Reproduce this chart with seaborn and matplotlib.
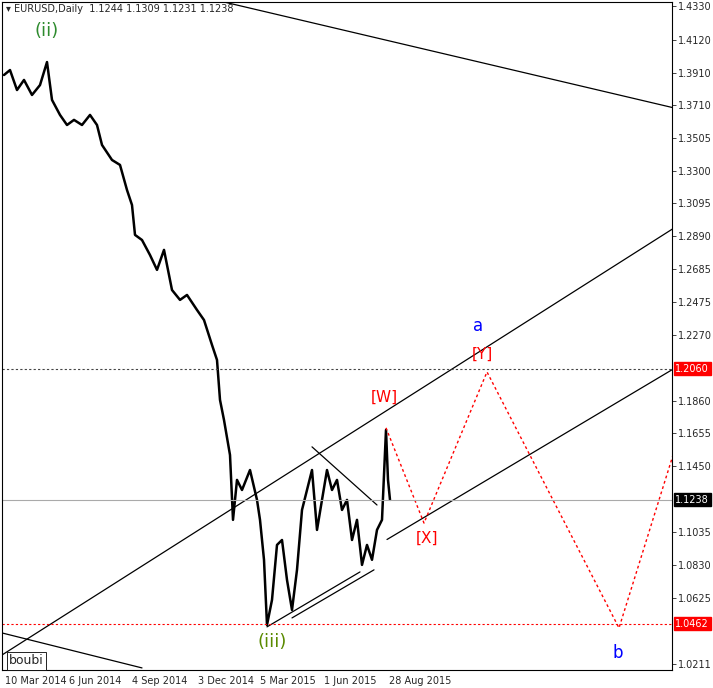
import matplotlib
matplotlib.use("Agg")
import matplotlib.pyplot as plt
import seaborn as sns
import pandas as pd

sns.set_style("white")
plt.rcParams['font.family'] = ['DejaVu Sans']

bar_idx = [2,8,15,22,30,38,45,50,58,65,72,80,88,95,100,110,118,125,130,133,140,148,155,162,170,178,185,195,202,210,215,218,222,228,231,235,240,248,255,258,262,265,270,275,280,285,290,295,300,305,310,315,320,325,330,335,340,345,350,355,360,365,370,375,380,384,386,388]
close = [1.3898,1.3929,1.3804,1.3867,1.3773,1.3835,1.3979,1.3742,1.3648,1.3585,1.3617,1.3585,1.3648,1.3585,1.3460,1.3366,1.3335,1.3178,1.3084,1.2897,1.2865,1.2771,1.2678,1.2803,1.2552,1.2490,1.2521,1.2427,1.2364,1.2208,1.2114,1.1864,1.1738,1.1519,1.1113,1.1363,1.1300,1.1425,1.1238,1.1113,1.0863,1.0455,1.0612,1.0956,1.0987,1.0737,1.0549,1.0800,1.1175,1.1300,1.1425,1.1050,1.1238,1.1425,1.1300,1.1363,1.1175,1.1238,1.0987,1.1113,1.0831,1.0956,1.0863,1.1050,1.1113,1.1676,1.1363,1.1238]

date_pos = [3,67,130,196,258,322,387]
date_labels = ["10 Mar 2014","6 Jun 2014","4 Sep 2014","3 Dec 2014","5 Mar 2015","1 Jun 2015","28 Aug 2015"]
price_ticks = [1.4330,1.4120,1.3910,1.3710,1.3505,1.3300,1.3095,1.2890,1.2685,1.2475,1.2270,1.1860,1.1655,1.1450,1.1035,1.0830,1.0625,1.0211]

# trend lines (bar index, price)
channel_up = ([0,672],[1.0267,1.2940])
channel_low = ([385,672],[1.0990,1.2060])
top_line = ([222,672],[1.4355,1.3692])
bottom_line = ([0,140],[1.0405,1.0186])
tri_line = ([310,375],[1.1570,1.1206])
inner1 = ([265,358],[1.0443,1.0787])
inner2 = ([290,372],[1.0499,1.0800])
wave_x = [384,422,485,617,672]
wave_y = [1.1689,1.1093,1.2039,1.0436,1.1538]
level_hi, level_lo, last_price = 1.2060, 1.0462, 1.1238

fig = plt.figure(figsize=(7.13,6.88), dpi=100)
ax = fig.add_axes([2/713, 18/688, 670/713, 668/688])
df = pd.DataFrame({"x": bar_idx, "p": close})
sns.lineplot(data=df, x="x", y="p", ax=ax, color="black", lw=1.8)
for lx, ly in [channel_up, channel_low, top_line, bottom_line, tri_line, inner1, inner2]:
    ax.plot(lx, ly, color="black", lw=0.9)
ax.plot(wave_x, wave_y, color="red", ls=(0,(2,2)), lw=1)
ax.axhline(level_hi, color="#444", ls=(0,(2,2)), lw=0.8)
ax.axhline(level_lo, color="red", ls=(0,(2,2)), lw=0.8)
ax.axhline(last_price, color="#aaaaaa", lw=0.8)

ax.set_xlim(0, 670)
ax.set_ylim(1.0173, 1.4355)
ax.yaxis.tick_right()
ax.set_yticks(price_ticks)
ax.set_yticklabels([f"{v:.4f}" for v in price_ticks], fontsize=7)
ax.set_xticks(date_pos)
ax.set_xticklabels(date_labels, fontsize=7, ha="left")
ax.tick_params(length=3, width=0.6, pad=1)
ax.set_xlabel(""); ax.set_ylabel("")
for s in ax.spines.values():
    s.set_color("black"); s.set_linewidth(0.8)

def box(v, fc):
    ax.text(1.005, (v-1.0173)/(1.4355-1.0173), f"{v:.4f}", transform=ax.transAxes, fontsize=7,
            color="white", va="center", ha="left",
            bbox=dict(boxstyle="square,pad=0.15", fc=fc, ec=fc))
box(level_hi, "red"); box(level_lo, "red"); box(last_price, "black")

ax.text(4, 1.4310, "▾ EURUSD,Daily  1.1244 1.1309 1.1231 1.1238", fontsize=7, va="center")
ax.text(45, 1.4175, "(ii)", color="#2e8b2e", fontsize=13, ha="center", va="center")
ax.text(270, 1.0348, "(iii)", color="#5a8a00", fontsize=13, ha="center", va="center")
ax.text(382, 1.1880, "[W]", color="red", fontsize=11, ha="center", va="center")
ax.text(425, 1.1000, "[X]", color="red", fontsize=11, ha="center", va="center")
ax.text(480, 1.2150, "[Y]", color="red", fontsize=11, ha="center", va="center")
ax.text(476, 1.2325, "a", color="blue", fontsize=12, ha="center", va="center")
ax.text(616, 1.0280, "b", color="blue", fontsize=12, ha="center", va="center")
ax.text(7, 1.0230, "boubi", fontsize=9, va="center",
        bbox=dict(boxstyle="square,pad=0.2", fc="white", ec="black", lw=0.6))
fig.savefig("out.png", dpi=100)
